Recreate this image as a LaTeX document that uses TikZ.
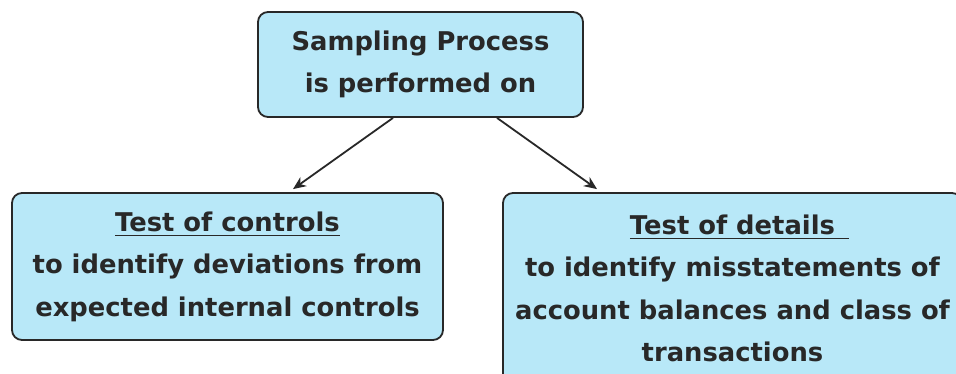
\documentclass[tikz,border=0pt]{standalone}
\usepackage{fontspec}
\setmainfont{DejaVu Sans}
\usetikzlibrary{arrows.meta}
\definecolor{boxfill}{RGB}{184,232,248}
\definecolor{ink}{RGB}{40,40,40}
% underline drawn as a rule; optional argument lengthens the bar
\newcommand\headbar[2][0pt]{\setbox0\hbox{#2}\rlap{\rule[-5pt]{\dimexpr\wd0+#1\relax}{1.6pt}}\box0}
\tikzset{
  card/.style={draw=ink, line width=1.8pt, fill=boxfill, rounded corners=10pt,
    align=center, text=ink, inner sep=0pt,
    font=\fontsize{25.8}{42.5}\selectfont\bfseries},
  link/.style={draw=ink, line width=1.8pt, -{Stealth[length=13pt,width=11pt]}}
}
\begin{document}
\begin{tikzpicture}[x=1pt,y=-1pt]
\useasboundingbox (0,0) rectangle (956,373);
\clip (0,0) rectangle (956,373);
\fill[white] (0,0) rectangle (956,373);

\node[card, minimum width=325pt, minimum height=105pt] (proc) at (420.5,64.5)
  {Sampling Process\\is performed on};

\node[card, minimum width=431pt, minimum height=147pt] (ctrl) at (227.5,266.5)
  {\headbar{Test of controls}\\to identify deviations from\\expected internal controls};

\node[card, minimum width=459pt, minimum height=191pt] (dtl) at (732.5,288.5)
  {\headbar[14pt]{Test of details}\\to identify misstatements of\\account balances and class of\\transactions};

\draw[link] ([xshift=-27.5pt]proc.south) -- ([xshift=65.5pt,yshift=3pt]ctrl.north);
\draw[link] ([xshift=76.5pt]proc.south) -- ([xshift=-135.5pt,yshift=3pt]dtl.north);
\end{tikzpicture}
\end{document}
